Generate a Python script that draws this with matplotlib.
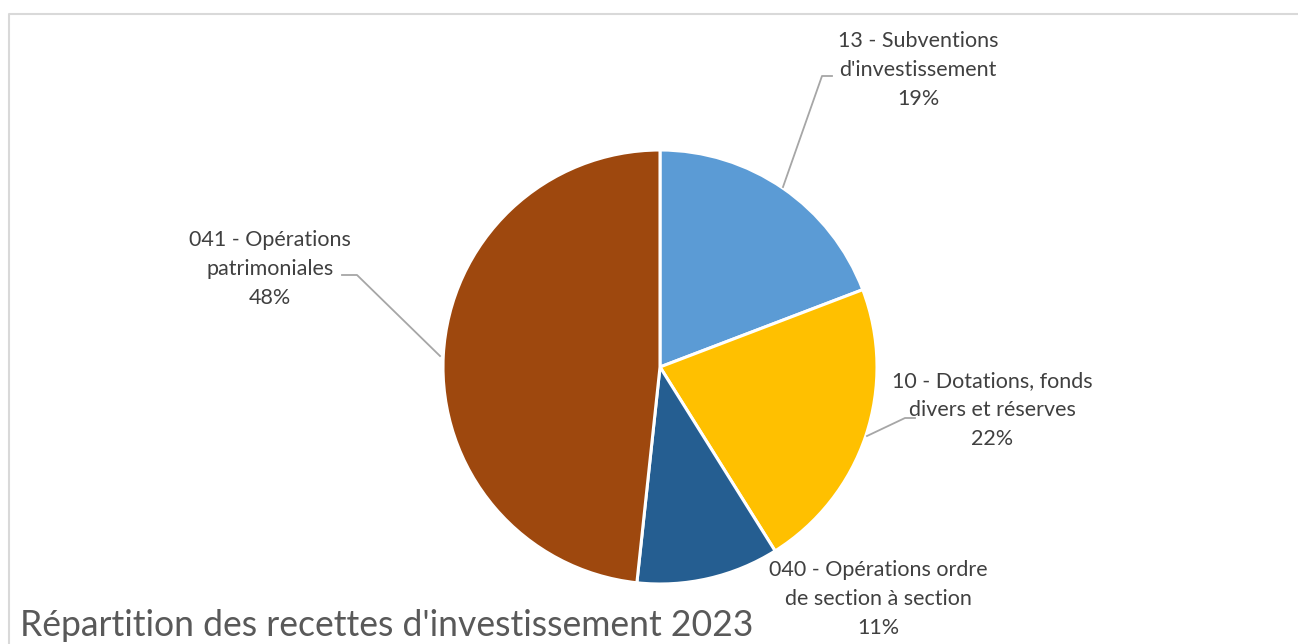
import matplotlib.pyplot as plt
import matplotlib.transforms as mtransforms

# data
labels = ["13 - Subventions\nd'investissement", "10 - Dotations, fonds\ndivers et réserves",
          "040 - Opérations ordre\nde section à section", "041 - Opérations\npatrimoniales"]
shares = [19.2, 21.9, 10.6, 48.3]
colors = ['#5B9BD5', '#FFC000', '#255E91', '#9E480E']
title = "Répartition des recettes d'investissement 2023"

W, H = 1298, 644
plt.rcParams['font.family'] = ['Lato', 'DejaVu Sans']

fig = plt.figure(figsize=(W / 100, H / 100), dpi=100)
ax = fig.add_axes([0, 0, 1, 1])

# chart border (top and left visible)
ax.plot([9, 9, W + 5], [H + 5, 14, 14], color='#D9D9D9', lw=1.5, clip_on=False)

cx, cy, r = 660, 367, 217
wedges, _ = ax.pie(shares, colors=colors, startangle=90, counterclock=False,
                   center=(cx, -cy), radius=r,
                   wedgeprops=dict(edgecolor='white', linewidth=2.2))
ax.set_xlim(0, W)
ax.set_ylim(H, 0)
ax.set_aspect('equal')
ax.axis('off')

# pie wedges were built with y up; mirror them onto the pixel-like axis
flip = mtransforms.Affine2D().scale(1, -1) + ax.transData
for w in wedges:
    w.set_transform(flip)

pct = [f"{round(s)}%" for s in shares]
txt_pos = [(918, 70), (992, 410), (878, 599), (270, 269)]
leaders = [
    [(783, 187), (822, 76), (832, 76)],
    [(867, 436), (905, 418), (915, 418)],
    None,
    [(440, 356), (357, 275), (342, 275)],
]
for lab, p, (tx, ty), ld in zip(labels, pct, txt_pos, leaders):
    ax.text(tx, ty, lab + "\n" + p, ha='center', va='center', fontsize=15.5,
            color='#404040', linespacing=1.55)
    if ld:
        xs, ys = zip(*ld)
        ax.plot(xs, ys, color='#A6A6A6', lw=1.3)

ax.text(20, 626, title, ha='left', va='center', fontsize=25.6, color='#595959')

fig.savefig('out.png', dpi=100)
